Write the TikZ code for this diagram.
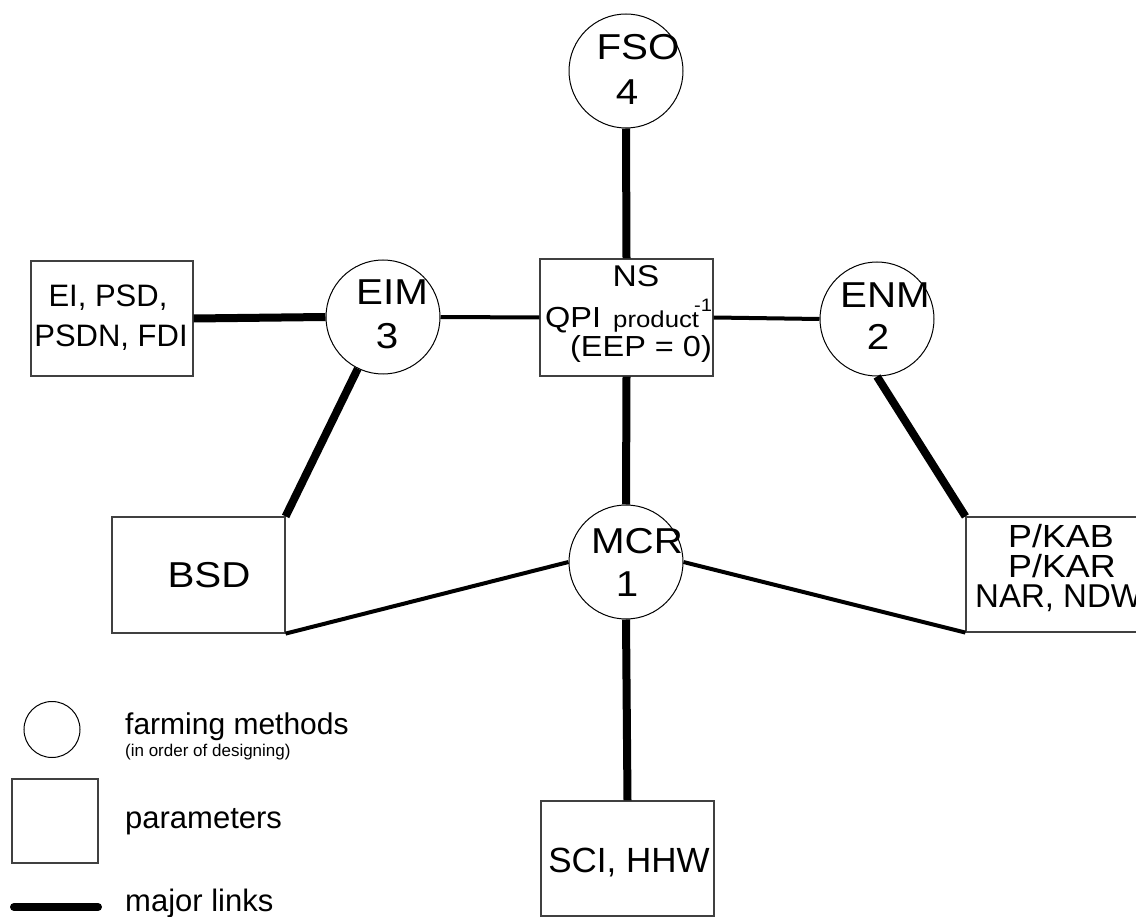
\documentclass[tikz,border=0pt]{standalone}
\usepackage{fontspec}
\setmainfont{Liberation Sans}
\newfontfamily\wf[FakeStretch=1.12]{Liberation Sans}
\newcommand\myfs[1]{\fontsize{#1pt}{#1pt}\selectfont}
\begin{document}
\begin{tikzpicture}[x=1pt,y=-1pt,
  circ/.style={circle,draw=black,line width=1pt,minimum size=114pt,inner sep=0pt},
  box/.style={rectangle,draw=black!75,line width=1.2pt,inner sep=0pt},
  major/.style={line width=8pt},
  minor/.style={line width=4pt},
  lbl/.style={inner sep=0pt,anchor=base},
  lblw/.style={inner sep=0pt,anchor=base west}]
\useasboundingbox (0,0) rectangle (1136,917);
\clip (0,0) rectangle (1136,917);

% circles (farming methods)
\node[circ] (FSO) at (626,71) {};
\node[circ] (EIM) at (383,317) {};
\node[circ] (ENM) at (877,319) {};
\node[circ] (MCR) at (626,562) {};

% boxes (parameters)
\node[box,minimum width=173pt,minimum height=117pt] (NS) at (626.5,317.5) {};
\node[box,minimum width=162pt,minimum height=115pt] (EI) at (112,318.5) {};
\node[box,minimum width=173pt,minimum height=116pt] (BSD) at (198.5,575) {};
\node[box,minimum width=200pt,minimum height=115pt] (PK) at (1066,574.5) {};
\node[box,minimum width=173pt,minimum height=115pt] (SCI) at (627.5,858.5) {};

% connectors
\draw[major] (FSO.south) -- (NS.north);
\draw[major] (EI.east) -- (EIM.west);
\draw[minor] (EIM.east) -- (NS.west);
\draw[minor] (NS.east) -- (ENM.west);
\draw[major] (EIM) -- (BSD.north east);
\draw[major] (NS.south) -- (MCR.north);
\draw[major] (ENM.south) -- (PK.north west);
\draw[minor] (MCR.west) -- (BSD.south east);
\draw[minor] (MCR.east) -- (PK.south west);
\draw[major] (MCR.south) -- (SCI.north);

% circle labels
\node[lbl] (tFSO) at (638,60) {\wf\myfs{36}FSO};
\node[lbl] (tFSOn) at (627,105) {\wf\myfs{36}4};
\node[lbl] (tEIM) at (392,305) {\wf\myfs{36}EIM};
\node[lbl] (tEIMn) at (387,349) {\wf\myfs{36}3};
\node[lbl] (tENM) at (885,308) {\wf\myfs{36}ENM};
\node[lbl] (tENMn) at (878,350) {\wf\myfs{36}2};
\node[lbl] (tMCR) at (637,553) {\wf\myfs{36}MCR};
\node[lbl] (tMCRn) at (627,596) {\wf\myfs{36}1};

% box labels
\node[lbl] (tNS) at (636,287) {\wf\myfs{30}NS};
\node[lblw] (tQPI) at (545,328) {\wf\myfs{29}QPI};
\node[lblw] (tprod) at (613,328) {\wf\myfs{23}product};
\node[lblw] (tsup) at (694,312) {\wf\myfs{18}-1};
\node[lbl] (tEEP) at (641,357) {\wf\myfs{29}(EEP = 0)};
\node[lbl] (tEI1) at (108,307) {\myfs{31}EI, PSD,};
\node[lbl] (tEI2) at (111,347) {\myfs{31}PSDN, FDI};
\node[lbl] (tBSD) at (209,587) {\wf\myfs{36}BSD};
\node[lblw] (tPK1) at (1008,547) {\wf\myfs{32}P/KAB};
\node[lblw] (tPK2) at (1008,577) {\wf\myfs{32}P/KAR};
\node[lblw] (tPK3) at (975,607) {\myfs{33}NAR, NDW};
\node[lbl] (tSCI) at (629,872) {\myfs{35}SCI, HHW};

% legend
\node[circ,minimum size=56pt] (legC) at (52,729.5) {};
\node[box,minimum width=86pt,minimum height=84pt] (legS) at (55,821) {};
\coordinate (legL1) at (14,907);
\coordinate (legL2) at (98,907);
\draw[major,line cap=round] (legL1) -- (legL2);
\node[lblw] (tfarm) at (125,734) {\myfs{30}farming methods};
\node[lblw] (torder) at (125,756) {\myfs{17}(in order of designing)};
\node[lblw] (tpar) at (125,828) {\myfs{31}parameters};
\node[lblw] (tmaj) at (125,911) {\myfs{31}major links};
\end{tikzpicture}
\end{document}
